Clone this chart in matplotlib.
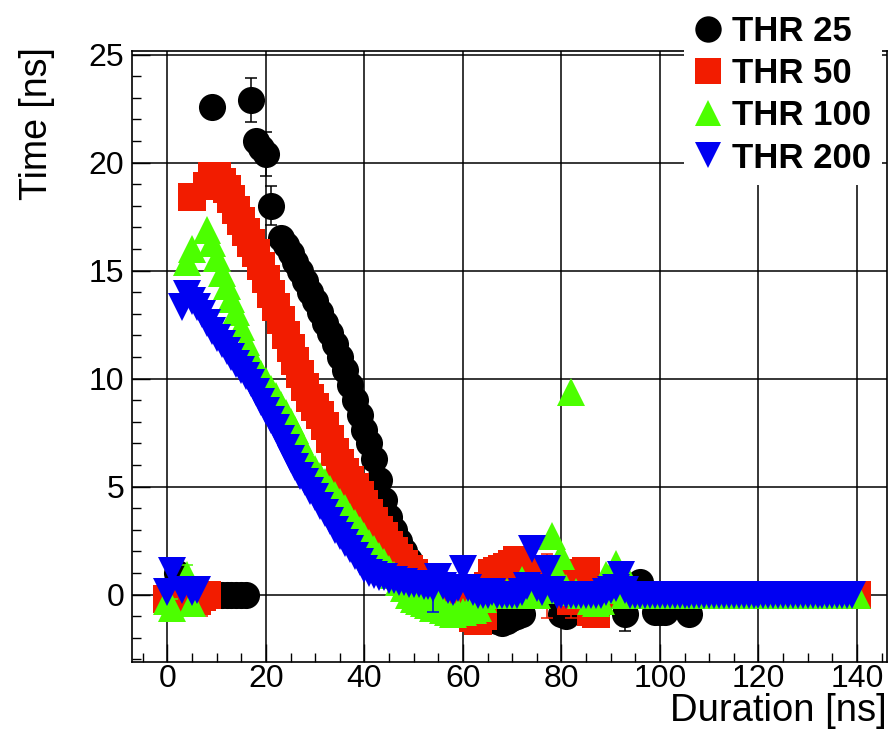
import matplotlib
matplotlib.use("Agg")
import matplotlib.pyplot as plt
from matplotlib.lines import Line2D
from matplotlib.ticker import MultipleLocator

plt.rcParams['font.family'] = ['Liberation Sans', 'DejaVu Sans']

# ---- THR 25 (black circles) ----
thr25_x = [2, 3, 9, 11, 12, 13, 14, 15, 16, 17, 18, 19, 20, 21] + list(range(23, 141))
thr25_y = [1.0, 0.5, 22.6, 0.0, 0.0, 0.0, 0.0, 0.0, 0.0, 22.9, 21.0, 20.7, 20.4, 18.0,
           # 23-54
           16.5, 16.2, 15.8, 15.4, 15.0, 14.5, 14.0, 13.6, 13.1, 12.6,
           12.1, 11.6, 11.0, 10.4, 9.7, 9.0, 8.3, 7.6, 7.0, 6.3,
           5.3, 4.4, 3.6, 3.0, 2.5, 2.0, 1.6, 1.2, 0.9, 0.6,
           0.4, 0.2,
           # 55-140
           0.0, 0.1, 0.0, 0.0, 0.1, 0.0, 0.0, -0.2, 0.0, 0.0,
           -0.2, 0.0, -1.2, -1.3, -1.2, -1.1, -1.0, -0.9, 0.0, 0.0,
           0.1, 0.0, 0.0, 0.1, 0.0, -0.9, -1.0, 0.0, 0.0, 0.1,
           0.0, 0.0, 0.0, 0.1, 0.0, 0.0, 0.0, 0.0, -0.9, 0.0,
           0.0, 0.6, 0.0, 0.0, -0.8, -0.8, -0.8, 0.0, 0.0, 0.0,
           0.0, -0.9, 0.0, 0.0, 0.0, 0.0, 0.0, 0.0, 0.0, 0.0,
           0.0, 0.0, 0.0, 0.0, 0.0, 0.0, 0.0, 0.0, 0.0, 0.0,
           0.0, 0.0, 0.0, 0.0, 0.0, 0.0, 0.0, 0.0, 0.0, 0.0,
           0.0, 0.0, 0.0, 0.0, 0.0, 0.0]
# points whose error bars stick out of the marker
thr25_ex = [17, 19, 20, 21, 93]
thr25_ey = [22.9, 20.7, 20.4, 18.0, -0.9]
thr25_ee = [1.0, 0.5, 1.0, 0.9, 0.8]

# ---- THR 50 (red squares) ----
thr50_x = [0, 1, 2, 3, 4, 5, 6, 7, 8, 5, 8, 9, 10] + list(range(11, 141))
thr50_y = [-0.2, 0.0, -0.3, -0.1, -0.2, 0.0, -0.3, -0.1, 0.0,
           18.4, 18.9, 19.4, 19.4,
           # 11-54
           19.1, 18.8, 18.3, 17.8, 17.3, 16.8, 16.3, 15.8, 15.2, 14.6,
           13.9, 13.3, 12.7, 12.0, 11.4, 10.8, 10.2, 9.6, 9.1, 8.7,
           8.3, 7.8, 7.2, 6.6, 6.1, 5.7, 5.3, 5.0, 4.6, 4.2,
           3.8, 3.4, 3.0, 2.7, 2.3, 2.0, 1.7, 1.4, 1.2, 1.0,
           0.8, 0.6, 0.4, 0.2,
           # 55-140
           0.1, 0.0, 0.1, 0.0, 0.0, 0.0, -0.4, -1.1, -1.2, -1.0,
           0.4, 1.0, 1.1, 1.2, 1.3, 1.4, 1.6, 1.3, 1.1, 1.0,
           0.8, 0.6, 0.9, 0.4, 0.7, 0.3, 0.2, -0.3, 0.1, 1.0,
           1.1, -0.8, -0.9, 0.2, 0.1, 0.1, 0.1, 0.0, 0.0, 0.0,
           0.0, 0.0, 0.0, 0.0, 0.0, 0.0, 0.0, 0.0, 0.0, 0.0,
           0.0, 0.0, 0.0, 0.0, 0.0, 0.0, 0.0, 0.0, 0.0, 0.0,
           0.0, 0.0, 0.0, 0.0, 0.0, 0.0, 0.0, 0.0, 0.0, 0.0,
           0.0, 0.0, 0.0, 0.0, 0.0, 0.0, 0.0, 0.0, 0.0, 0.0,
           0.0, 0.0, 0.0, 0.0, 0.0, 0.0]
thr50_ex = [7, 64, 71, 77, 82]
thr50_ey = [-0.1, -1.0, 1.6, 0.4, -0.3]
thr50_ee = [0.9, 0.8, 0.6, 1.5, 0.8]

# ---- THR 100 (green triangles up) ----
thr100_x = [0, 1, 4, 5, 4, 5, 8] + list(range(9, 141))
thr100_y = [-0.3, -0.6, 0.9, -0.4, 15.4, 16.0, 16.9,
            # 9-54
            16.3, 15.6, 14.9, 14.3, 13.7, 13.1, 12.4, 11.7, 11.1, 10.6,
            10.2, 9.9, 9.5, 9.2, 8.8, 8.4, 8.0, 7.6, 7.1, 6.6,
            6.1, 5.8, 5.5, 5.2, 4.9, 4.6, 4.3, 4.0, 3.6, 3.3,
            3.0, 2.7, 2.4, 2.1, 1.8, 1.5, 1.2, 0.9, 0.6, 0.3,
            0.0, -0.2, -0.3, -0.4, -0.5, -0.6,
            # 55-140
            -0.3, -0.7, -0.8, -0.9, -0.8, -0.8, -0.7, -0.7, -0.6, -0.2,
            0.0, 0.0, 0.1, 0.0, 0.1, 0.0, 0.2, 0.7, 0.1, 0.0,
            0.0, 0.2, 0.4, 2.7, 1.0, 1.8, 0.3, 9.4, 0.1, 0.0,
            0.0, -0.3, -0.4, -0.3, 0.9, 0.3, 1.4, 0.2, 0.0, 0.5,
            0.0, 0.0, 0.0, 0.0, 0.0, 0.0, 0.0, 0.0, 0.0, 0.0,
            0.0, 0.0, 0.0, 0.0, 0.0, 0.0, 0.0, 0.0, 0.0, 0.0,
            0.0, 0.0, 0.0, 0.0, 0.0, 0.0, 0.0, 0.0, 0.0, 0.0,
            0.0, 0.0, 0.0, 0.0, 0.0, 0.0, 0.0, 0.0, 0.0, 0.0,
            0.0, 0.0, 0.0, 0.0, 0.0, 0.0]
thr100_ex = [1, 4]
thr100_ey = [-0.6, 0.9]
thr100_ee = [0.4, 0.45]

# ---- THR 200 (blue triangles down) ----
thr200_x = [0, 1, 3, 5, 6, 3, 4] + list(range(5, 140))
thr200_y = [0.1, 1.1, 0.2, 0.1, 0.2, 13.3, 13.9,
            # 5-54
            13.6, 13.3, 13.0, 12.6, 12.2, 11.9, 11.6, 11.3, 11.0, 10.7,
            10.4, 10.1, 9.8, 9.4, 8.9, 8.5, 8.1, 7.7, 7.2, 6.8,
            6.3, 5.9, 5.5, 5.2, 4.8, 4.5, 4.1, 3.8, 3.4, 3.0,
            2.7, 2.4, 2.1, 1.8, 1.5, 1.2, 1.0, 0.9, 0.8, 0.8,
            0.7, 0.7, 0.6, 0.6, 0.5, 0.5, 0.5, 0.4, 0.4, 0.3,
            # 55-139
            0.8, 0.4, 0.2, 0.1, 0.3, 1.2, 0.3, 0.1, 0.0, 0.0,
            0.0, 0.1, 0.0, 0.0, 0.0, 0.0, 0.0, 0.1, 0.4, 2.1,
            0.3, 0.1, 1.2, 0.2, 0.0, 0.0, 0.0, 0.0, 0.0, 0.0,
            0.0, 0.0, 0.0, 0.0, 0.1, 0.2, 0.3, 0.9, 0.2, 0.0,
            0.0, 0.0, 0.0, 0.0, 0.0, 0.0, 0.0, 0.0, 0.0, 0.0,
            0.0, 0.0, 0.0, 0.0, 0.0, 0.0, 0.0, 0.0, 0.0, 0.0,
            0.0, 0.0, 0.0, 0.0, 0.0, 0.0, 0.0, 0.0, 0.0, 0.0,
            0.0, 0.0, 0.0, 0.0, 0.0, 0.0, 0.0, 0.0, 0.0, 0.0,
            0.0, 0.0, 0.0, 0.0, 0.0]
thr200_ex = [54]
thr200_ey = [0.3]
thr200_ee = [1.1]

labels = ["THR 25", "THR 50", "THR 100", "THR 200"]
colors = ["black", "#f21c00", "#4cff00", "#0000f2"]
markers = ["o", "s", "^", "v"]

series = [
    (thr25_x, thr25_y, thr25_ex, thr25_ey, thr25_ee),
    (thr50_x, thr50_y, thr50_ex, thr50_ey, thr50_ee),
    (thr100_x, thr100_y, thr100_ex, thr100_ey, thr100_ee),
    (thr200_x, thr200_y, thr200_ex, thr200_ey, thr200_ee),
]

fig = plt.figure(figsize=(8.9, 7.36), dpi=100)
ax = fig.add_axes([0.1483, 0.1005, 0.8483, 0.8302])

for i, (x, y, ex, ey, ee) in enumerate(series):
    z = 3 + 2 * i
    ax.errorbar(ex, ey, yerr=ee, fmt='none', ecolor=colors[i], elinewidth=1.1,
                capsize=4.3, capthick=1.1, zorder=z)
    ax.plot(x, y, linestyle='none', marker=markers[i], ms=19.5, mew=0,
            color=colors[i], zorder=z + 0.5)

ax.set_xlim(-7.2, 146.1)
ax.set_ylim(-3.12, 25.17)
ax.xaxis.set_major_locator(MultipleLocator(20))
ax.xaxis.set_minor_locator(MultipleLocator(5))
ax.yaxis.set_major_locator(MultipleLocator(5))
ax.yaxis.set_minor_locator(MultipleLocator(1))
ax.tick_params(which='both', direction='in', top=False, right=False, width=1.0)
ax.tick_params(which='major', length=13)
ax.tick_params(which='minor', length=6.7)
ax.tick_params(axis='x', labelsize=23, pad=1.5)
ax.tick_params(axis='y', labelsize=23, pad=5.5)
ax.grid(True, which='major', color='black', lw=1.1)
ax.set_axisbelow(True)
for sp in ax.spines.values():
    sp.set_linewidth(1.2)

ax.set_xlabel("Duration [ns]", fontsize=27.5, loc='right')
ax.xaxis.set_label_coords(1.0, -0.05)
ax.set_ylabel("Time [ns]", fontsize=27, loc='top')
ax.yaxis.set_label_coords(-0.102, 1.0065)

handles = [Line2D([], [], linestyle='none', marker=m, ms=19, mew=0, color=c)
           for m, c in zip(markers, colors)]
leg = ax.legend(handles, labels, loc='upper left',
                bbox_to_anchor=(684 / 890, 1 - 5 / 736), bbox_transform=fig.transFigure,
                frameon=True, fancybox=False, framealpha=1, facecolor='white',
                edgecolor='none', borderpad=0.3, borderaxespad=0,
                handlelength=0.8, handletextpad=0.29, labelspacing=0.26,
                prop={'family': ['Liberation Sans'], 'weight': 'bold', 'size': 25})
leg.set_zorder(20)

fig.savefig("out.png", dpi=100)
